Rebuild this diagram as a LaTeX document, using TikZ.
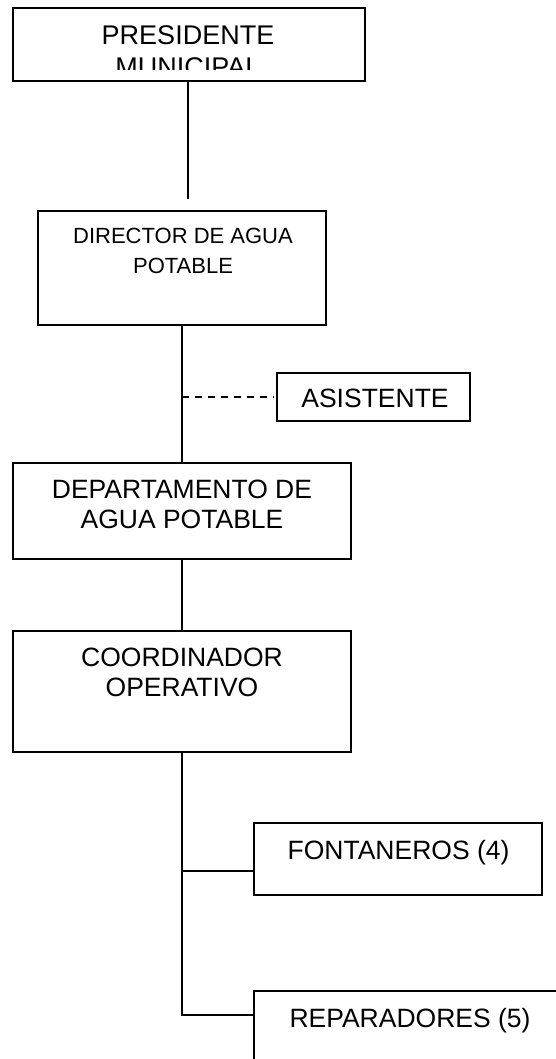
\documentclass[tikz,border=0pt]{standalone}
\usepackage{fontspec}
\setmainfont{Liberation Sans}
\begin{document}
\begin{tikzpicture}[x=1pt,y=-1pt,
  box/.style={draw, line width=1.5pt, inner sep=0pt},
  lbl/.style={anchor=north, inner sep=0pt, align=center, font=\fontsize{26.5}{30}\selectfont},
  wire/.style={line width=1.5pt}]
\clip (0,0) rectangle (556,1059);
\fill[white] (0,0) rectangle (556,1059);
% boxes
\node[box, minimum width=352pt, minimum height=73pt] (pres) at (189,44.5) {};
\node[box, minimum width=288pt, minimum height=114pt] (dir) at (182,268) {};
\node[box, minimum width=193pt, minimum height=48pt] (asis) at (373.5,397) {};
\node[box, minimum width=338pt, minimum height=96pt] (dep) at (182,511) {};
\node[box, minimum width=338pt, minimum height=121pt] (coord) at (182,691.5) {};
\node[box, minimum width=288pt, minimum height=72pt] (font) at (398,859) {};
\node[box, minimum width=312pt, minimum height=89pt] (rep) at (410,1035.5) {};
% texts
\begin{scope}
\clip (13,8) rectangle (365,70);
\node[lbl, font=\fontsize{27}{32}\selectfont] (tpres) at (188,25) {PRESIDENTE\\MUNICIPAL};
\end{scope}
\node[lbl, font=\fontsize{22}{30}\selectfont] (tdir) at (183,228) {DIRECTOR DE AGUA\\POTABLE};
\node[lbl] (tasis) at (375,389) {ASISTENTE};
\node[lbl] (tdep) at (182,480) {DEPARTAMENTO DE\\AGUA POTABLE};
\node[lbl] (tcoord) at (182,648) {COORDINADOR\\OPERATIVO};
\node[lbl] (tfont) at (398.5,840) {FONTANEROS (4)};
\node[lbl] (trep) at (410,1008) {REPARADORES (5)};
% connectors
\coordinate (presEnd) at (188,199);
\draw[wire] (pres.south -| presEnd) -- (presEnd);
\draw[wire] (dir.south) -- (dep.north);
\draw[wire, dash pattern=on 7pt off 6pt] (dir.south |- asis.west) -- ([xshift=-2pt]asis.west);
\draw[wire] (dep.south) -- (coord.north);
\draw[wire] (coord.south) |- ([yshift=-12pt]font.west);
\draw[wire] (coord.south) |- ([yshift=20.5pt]rep.west);
\end{tikzpicture}
\end{document}
